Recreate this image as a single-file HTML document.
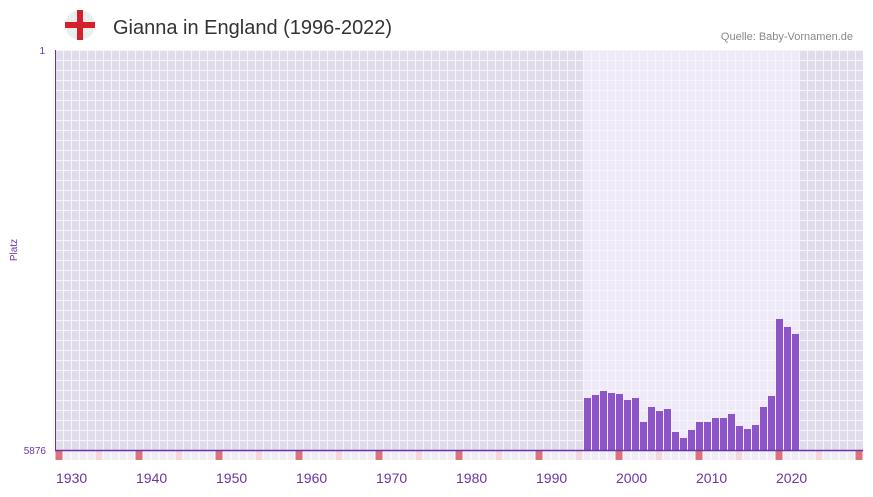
<!DOCTYPE html>
<html><head><meta charset="utf-8"><style>
body{margin:0;background:#fff;width:873px;height:492px;overflow:hidden;font-family:"Liberation Sans",sans-serif}
</style></head><body>
<svg width="873" height="492" xmlns="http://www.w3.org/2000/svg" font-family="Liberation Sans, sans-serif">
<defs>
<pattern id="g" x="55" y="50" width="8" height="10" patternUnits="userSpaceOnUse">
<path d="M0 0.5H8M0.5 0V10" fill="none" stroke="#f7f5fb" stroke-width="1"/>
</pattern>
</defs>
<rect x="55" y="50" width="808" height="400" fill="#e1dcea"/>
<rect x="583" y="50" width="216" height="400" fill="#eeeaf8"/>
<rect x="55" y="50" width="808" height="400" fill="url(#g)"/>
<g id="bars" fill="#8e55c9"></g>
<g id="strip"></g>
<line x1="55" y1="450.5" x2="863" y2="450.5" stroke="#6a35a8" stroke-width="1.5"/>
<line x1="55.5" y1="50" x2="55.5" y2="451" stroke="#6a35a8" stroke-width="1"/>
<text x="45" y="54" font-size="10" fill="#6a35a8" text-anchor="end">1</text>
<text x="46" y="454" font-size="10" fill="#6a35a8" text-anchor="end">5876</text>
<text x="17" y="250" font-size="10" fill="#6a35a8" text-anchor="middle" transform="rotate(-90 17 250)">Platz</text>
<g font-size="14" fill="#6a35a8" id="xl"></g>
<circle cx="80" cy="25" r="15" fill="#eeeeee"/>
<rect x="65" y="22" width="30" height="6" fill="#d4202c"/>
<rect x="77" y="10" width="6" height="30" fill="#d4202c"/>
<text x="113" y="34" font-size="20" fill="#333">Gianna in England (1996-2022)</text>
<text x="853" y="40" font-size="11" fill="#888" text-anchor="end">Quelle: Baby-Vornamen.de</text>
</svg>
<script>
var ns="http://www.w3.org/2000/svg";
var tops=[398,395,391,393,394,400,398,422,407,411,409,432,438,430,422,422,418,418,414,426,429,425,407,396,319,327,334];
var b=document.getElementById("bars");
tops.forEach(function(t,i){var r=document.createElementNS(ns,"rect");r.setAttribute("x",584+i*8);r.setAttribute("y",t);r.setAttribute("width",7);r.setAttribute("height",450-t);b.appendChild(r);});
var s=document.getElementById("strip");
for(var y=1930;y<=2030;y++){var r=document.createElementNS(ns,"rect");var x=55+(y-1930)*8;r.setAttribute("x",x+0.5);r.setAttribute("y",451);r.setAttribute("width",7);r.setAttribute("height",9);
r.setAttribute("fill",y%10==0?"#e0707c":(y%5==0?"#f3d6de":"#efecf6"));s.appendChild(r);}
var xl=document.getElementById("xl");
for(var y=1930;y<=2020;y+=10){var t=document.createElementNS(ns,"text");t.setAttribute("x",56+(y-1930)*8);t.setAttribute("y",483);t.textContent=y;xl.appendChild(t);}
</script>
</body></html>
